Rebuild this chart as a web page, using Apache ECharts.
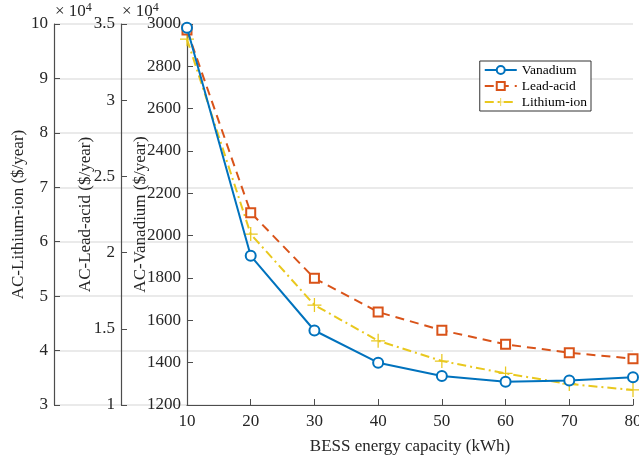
<!DOCTYPE html>
<html><head><meta charset="utf-8">
<script src="https://cdn.jsdelivr.net/npm/echarts@6/dist/echarts.min.js"></script>
<style>html,body{margin:0;padding:0;background:#fff}#c{width:639px;height:460px}</style>
</head><body><div id="c"></div>
<script>
const categories = [10, 20, 30, 40, 50, 60, 70, 80];
const vanadium = [2982, 1905, 1552, 1400, 1337, 1310, 1316, 1331];
const leadAcid = [34600, 22620, 18310, 16100, 14900, 13980, 13430, 13040];
const lithiumIon = [97200, 61400, 48370, 41800, 38080, 35800, 33860, 32760];
const vanTicks = {min: 1200, max: 3000, interval: 200};
const leadTicks = {min: 10000, max: 35000, interval: 5000};
const liTicks = {min: 30000, max: 100000, interval: 10000};

const FONT = 'Liberation Serif';
const AX = '#4d4d4d';
const C1 = '#0072BD', C2 = '#D95319', C3 = '#E9C81E';
const plus = 'path://M-0.09,-1 L0.09,-1 L0.09,-0.09 L1,-0.09 L1,0.09 L0.09,0.09 L0.09,1 L-0.09,1 L-0.09,0.09 L-1,0.09 L-1,-0.09 L-0.09,-0.09 Z';

const chart = echarts.init(document.getElementById('c'), null, {renderer: 'canvas'});
const lbl = {fontFamily: FONT, fontSize: 17, color: '#262626'};
function yax(t, name, offset, gap, fmt) {
  return {
    type: 'value', gridIndex: 0, position: 'left', offset: offset,
    min: t.min, max: t.max, interval: t.interval,
    name: name, nameLocation: 'middle', nameGap: gap, nameMoveOverlap: false,
    nameTextStyle: {fontFamily: FONT, fontSize: 17, color: '#262626'},
    axisLine: {show: true, lineStyle: {color: AX, width: 1.2}},
    axisTick: {show: true, inside: true, length: 6, lineStyle: {color: AX}},
    axisLabel: Object.assign({margin: 6, formatter: fmt}, lbl),
    splitLine: {show: false}
  };
}
const option = {
  animation: false,
  backgroundColor: '#fff',
  grid: [
    {left: 187, right: 6, top: 24, bottom: 55, containLabel: false, outerBoundsMode: 'none'},
    {left: 54, right: 6, top: 24, bottom: 55, containLabel: false, outerBoundsMode: 'none'}
  ],
  xAxis: [
    {type: 'value', gridIndex: 0, min: 10, max: 80, interval: 10,
     name: 'BESS energy capacity (kWh)', nameLocation: 'middle', nameGap: 33,
     nameTextStyle: {fontFamily: FONT, fontSize: 17, color: '#262626'},
     axisLine: {show: true, onZero: false, lineStyle: {color: AX, width: 1.2}},
     axisTick: {show: true, inside: true, length: 6, lineStyle: {color: AX}},
     axisLabel: Object.assign({margin: 8}, lbl),
     splitLine: {show: false}},
    {type: 'value', gridIndex: 1, min: 0, max: 1, show: false}
  ],
  yAxis: [
    yax(vanTicks, 'AC-Vanadium ($/year)', 0, 38, v => String(v)),
    yax(leadTicks, 'AC-Lead-acid ($/year)', 66, 27, v => String(v / 10000)),
    yax(liTicks, 'AC-Lithium-ion ($/year)', 133, 27, v => String(v / 10000)),
    {type: 'value', gridIndex: 1, min: liTicks.min, max: liTicks.max, interval: liTicks.interval,
     axisLine: {show: false}, axisTick: {show: false}, axisLabel: {show: false},
     splitLine: {show: true, lineStyle: {color: '#e3e3e3', width: 1.5}}}
  ],
  legend: {
    right: 48, top: 61, orient: 'vertical',
    backgroundColor: '#fff', borderColor: '#333', borderWidth: 1,
    padding: [2, 4, 2, 4], itemWidth: 32, itemHeight: 10, itemGap: 2,
    textStyle: {fontFamily: FONT, fontSize: 13.5, color: '#000'},
    data: ['Vanadium', 'Lead-acid', 'Lithium-ion']
  },
  graphic: [
    {type: 'text', left: 55, top: 2, style: {rich: {a: {fontFamily: FONT, fontSize: 17, fill: '#262626'}, s: {fontFamily: FONT, fontSize: 12, fill: '#262626', verticalAlign: 'top', padding: [0, 0, 8, 0]}}, text: '{a|\u00d7 10}{s|4}'}},
    {type: 'text', left: 122, top: 2, style: {rich: {a: {fontFamily: FONT, fontSize: 17, fill: '#262626'}, s: {fontFamily: FONT, fontSize: 12, fill: '#262626', verticalAlign: 'top', padding: [0, 0, 8, 0]}}, text: '{a|\u00d7 10}{s|4}'}}
  ],
  series: [
    {name: 'Vanadium', type: 'line', xAxisIndex: 0, yAxisIndex: 0,
     data: categories.map((x, i) => [x, vanadium[i]]),
     symbol: 'circle', symbolSize: 10, showAllSymbol: true,
     lineStyle: {color: C1, width: 2},
     itemStyle: {color: '#fff', borderColor: C1, borderWidth: 2}, z: 5},
    {name: 'Lead-acid', type: 'line', xAxisIndex: 0, yAxisIndex: 1,
     data: categories.map((x, i) => [x, leadAcid[i]]),
     symbol: 'rect', symbolSize: 9, showAllSymbol: true,
     lineStyle: {color: C2, width: 2, type: [9, 6]},
     itemStyle: {color: '#fff', borderColor: C2, borderWidth: 2}, z: 4},
    {name: 'Lithium-ion', type: 'line', xAxisIndex: 0, yAxisIndex: 2,
     data: categories.map((x, i) => [x, lithiumIon[i]]),
     symbol: plus, symbolSize: 14, showAllSymbol: true,
     lineStyle: {color: C3, width: 2, type: [9, 4, 2, 4]},
     itemStyle: {color: C3, borderWidth: 0}, z: 3}
  ]
};
chart.setOption(option);
</script>
</body></html>
